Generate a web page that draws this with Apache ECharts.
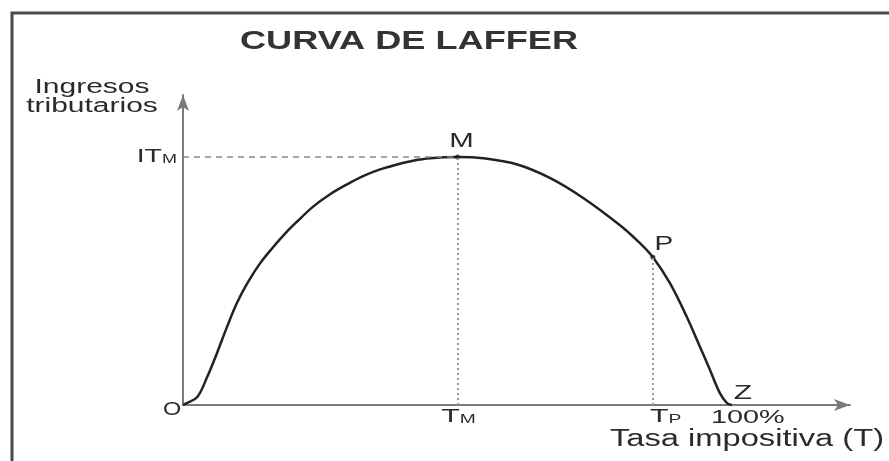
<!DOCTYPE html>
<html>
<head>
<meta charset="utf-8">
<script src="https://cdn.jsdelivr.net/npm/echarts@6/dist/echarts.min.js"></script>
<style>
  html, body { margin: 0; padding: 0; background: #fff; }
  #chart { width: 889px; height: 461px; }
</style>
</head>
<body>
<div id="chart"></div>
<script>
// tax rate (%) and tax revenue (% of max)
const taxRate = [0, 0.7, 2.6, 4.4, 6.2, 8, 9.8, 11.7, 14, 16.4, 18.8, 20.8, 23.7, 26.8, 29.9, 32.8, 35.9, 39, 41.9, 45, 50,
  54.7, 60.9, 66.9, 72.9, 79.6, 82.7, 85.6, 88.7, 91.8, 94.2, 96, 97.8, 99.1, 100];
const revenue = [0, 0.8, 3.2, 11.3, 21, 31.4, 41, 49, 57, 63.6, 69.6, 74, 80, 85, 89, 92.3, 95, 97, 98.5, 99.5, 100,
  99.5, 97, 91.5, 83.5, 72.5, 66.4, 59.6, 49.1, 35.4, 23.3, 14.1, 4.8, 0.8, 0];

const pointM = [50, 100];
const pointP = [85.6, 59.6];
const pointZ = [100, 0];
const origin = [0, 0];

const chart = echarts.init(document.getElementById('chart'));

const FONT = '"Liberation Sans", Arial, sans-serif';
const axisColor = '#7a7a7a';
const curve = taxRate.map((t, i) => [t, revenue[i]]);

const option = {
  animation: false,
  backgroundColor: '#fff',
  grid: { left: 183, right: 39, top: 95, bottom: 56 },
  xAxis: {
    type: 'value', min: 0, max: 121.5,
    axisLine: { lineStyle: { color: axisColor, width: 2 }, symbol: ['none', 'arrow'], symbolSize: [9, 16] },
    axisTick: { show: false }, axisLabel: { show: false }, splitLine: { show: false }
  },
  yAxis: {
    type: 'value', min: 0, max: 125,
    axisLine: { lineStyle: { color: axisColor, width: 2 }, symbol: ['none', 'arrow'], symbolSize: [9, 16] },
    axisTick: { show: false }, axisLabel: { show: false }, splitLine: { show: false }
  },
  series: [
    {
      // the curve itself, drawn as one smooth polyline through the read points
      type: 'custom',
      data: curve,
      encode: { x: 0, y: 1 },
      z: 3,
      renderItem: function (params, api) {
        if (params.dataIndex !== 0) return null;
        return {
          type: 'polyline',
          shape: { points: curve.map(d => api.coord(d)), smooth: 0.35 },
          style: { stroke: '#222', lineWidth: 2.5, fill: null }
        };
      }
    },
    {
      type: 'line',
      data: [],
      markLine: {
        silent: true,
        symbol: 'none',
        label: { show: false },
        data: [
          [{ coord: [0, pointM[1]], lineStyle: { type: [6, 5], color: '#888', width: 1.5 } }, { coord: pointM }],
          [{ coord: [pointM[0], 0], lineStyle: { type: [2, 3], color: '#999', width: 2 } }, { coord: pointM }],
          [{ coord: [pointP[0], 0], lineStyle: { type: [2, 3], color: '#999', width: 2 } }, { coord: pointP }]
        ]
      }
    },
    {
      type: 'scatter',
      data: [pointM, pointP],
      symbolSize: 5,
      itemStyle: { color: '#222' },
      z: 4
    }
  ]
};
chart.setOption(option);

function txt(pos, text, opts) {
  return {
    type: 'text',
    x: pos[0], y: pos[1],
    scaleX: opts.scaleX || 1.45,
    silent: true,
    z: 10,
    style: {
      text: text,
      fill: opts.color || '#2a2a2a',
      font: (opts.weight || 'normal') + ' ' + (opts.size || 19) + 'px ' + FONT,
      textAlign: opts.align || 'center', align: opts.align || 'center',
      textVerticalAlign: 'middle', verticalAlign: 'middle',
      rich: opts.rich
    }
  };
}

function at(pt, dx, dy) {
  const p = chart.convertToPixel({ gridIndex: 0 }, pt);
  return [p[0] + dx, p[1] + dy];
}

const subRich = {
  a: { fontSize: 19, fontFamily: FONT, fill: '#2a2a2a', color: '#2a2a2a', verticalAlign: 'bottom' },
  b: { fontSize: 12, fontFamily: FONT, fill: '#2a2a2a', color: '#2a2a2a', verticalAlign: 'bottom', padding: [0, 0, 1, 0] }
};

chart.setOption({
  graphic: [
    {
      type: 'rect', silent: true, z: 0,
      shape: { x: 12, y: 13, width: 1000, height: 1000 },
      style: { fill: 'none', stroke: '#4a4a4a', lineWidth: 3 }
    },
    txt([409, 42], 'CURVA DE LAFFER', { size: 26, weight: 'bold', scaleX: 1.39, color: '#333' }),
    txt([92, 87], 'Ingresos', { size: 20, scaleX: 1.5 }),
    txt([92, 106], 'tributarios', { size: 20, scaleX: 1.5 }),
    txt([747, 440], 'Tasa impositiva (T)', { size: 23, scaleX: 1.42 }),
    txt(at([0, pointM[1]], -6, 0), '{a|IT}{b|M}', { align: 'right', scaleX: 1.5, rich: subRich }),
    txt(at(pointM, 4, -16), 'M', { size: 21, scaleX: 1.4 }),
    txt(at(pointP, 11, -13), 'P', { size: 20, scaleX: 1.4 }),
    txt(at(pointZ, 11, -12), 'Z', { size: 20, scaleX: 1.5 }),
    txt(at([pointM[0], 0], 1, 12), '{a|T}{b|M}', { scaleX: 1.6, rich: subRich }),
    txt(at([pointP[0], 0], -3, 12), '{a|T}{b|P}', { align: 'left', scaleX: 1.6, rich: subRich }),
    txt(at(pointZ, -21, 13), '100%', { align: 'left', size: 18, scaleX: 1.6 }),
    txt(at(origin, -11, 5), 'O', { size: 18, scaleX: 1.3 })
  ]
});
</script>
</body>
</html>
